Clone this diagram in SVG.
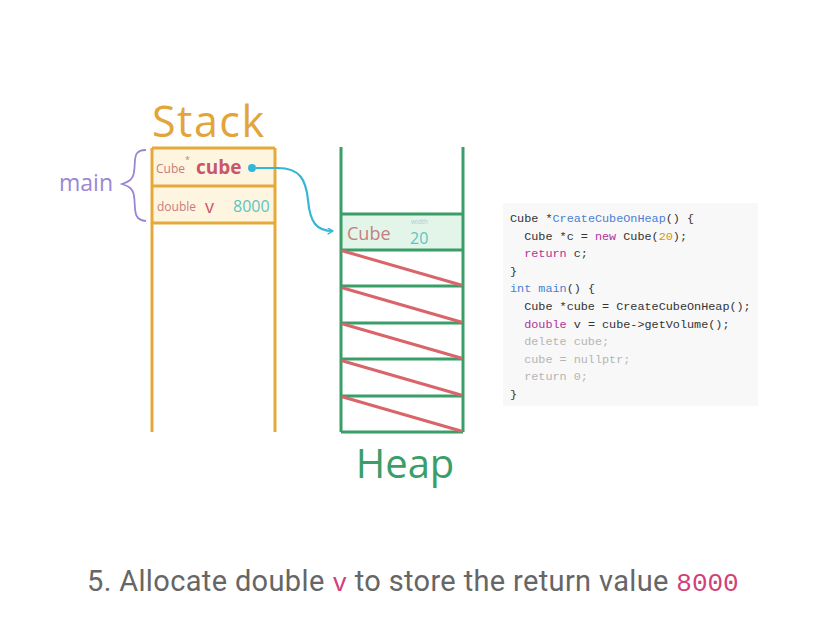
<svg xmlns="http://www.w3.org/2000/svg" width="820" height="628" viewBox="0 0 820 628">
<defs>
<style>
.hand{font-family:"Open Sans","DejaVu Sans",sans-serif}
.code{font-family:"Liberation Mono","DejaVu Sans Mono",monospace;font-size:11.8px;fill:#333;white-space:pre}
.kw{fill:#4a7fd4}.pk{fill:#b0339b}.num{fill:#c9961a}.dim{fill:#b5b5b5}
.st{stroke:#e5a93a;stroke-width:3;fill:none}
.hp{stroke:#3a9e68;stroke-width:3;fill:none}
.diag{stroke:#d9646a;stroke-width:3;fill:none;stroke-linecap:round}
</style>
<marker id="arr" viewBox="0 0 10 10" refX="8" refY="5" markerWidth="7" markerHeight="7" orient="auto" markerUnits="userSpaceOnUse">
<path d="M1,1 L8,5 L1,9" fill="none" stroke="#35b6d6" stroke-width="2" stroke-linecap="round" stroke-linejoin="round"/>
</marker>
</defs>
<rect width="820" height="628" fill="#ffffff"/>

<g id="stack">
<text x="152" y="137" class="hand" font-size="43" letter-spacing="1.5" fill="#e2a53a">Stack</text>
<rect x="152" y="148" width="123" height="75" fill="#fdf5e0"/>
<path class="st" d="M152,148 V432 M275,148 V432 M152,148 H275 M152,186 H275 M152,223 H275"/>
</g>

<g id="frame-main">
<path d="M146,150 C132,150 136,160 134,172 C133,180 128,182 122,184 C128,186 133,188 134,196 C136,208 132,220 146,221" fill="none" stroke="#9b86d6" stroke-width="1.8"/>
<text x="59" y="191" class="hand" font-size="23" fill="#9b86d6">main</text>
</g>

<g id="var-cube">
<text x="156" y="173" class="hand" font-size="12" fill="#c97b7b">Cube</text>
<text x="185" y="163" class="hand" font-size="9" fill="#c97b7b">*</text>
<text x="196" y="174" class="hand" font-size="19" font-weight="bold" fill="#c9566a">cube</text>
<circle cx="252" cy="168" r="4" fill="#35b6d6"/>
</g>

<g id="var-v">
<text x="157" y="211" class="hand" font-size="12" fill="#c97b7b">double</text>
<text x="205" y="213" class="hand" font-size="18" fill="#c9566a">v</text>
<text x="233" y="212" class="hand" font-size="16" fill="#5cc5c0">8000</text>
</g>

<g id="heap">
<rect x="341" y="214" width="122" height="36" fill="#e3f5e9"/>
<path class="hp" d="M341,147 V432 M463,147 V432 M341,214 H463 M341,250 H463 M341,286 H463 M341,323 H463 M341,359 H463 M341,396 H463 M341,432 H463"/>
<path class="diag" d="M343,251 L461,285 M343,288 L461,322 M343,324 L461,358 M343,361 L461,395 M343,397 L461,431"/>
<text x="405" y="478" class="hand" font-size="40" fill="#3a9e68" text-anchor="middle">Heap</text>
</g>

<g id="heap-cube">
<text x="347" y="240" class="hand" font-size="18" fill="#c48080">Cube</text>
<text x="411" y="224" class="hand" font-size="6.5" fill="#a8cfd6">width</text>
<text x="410" y="244" class="hand" font-size="16" fill="#5cc5c0">20</text>
</g>

<g id="connectors">
<path d="M256,168 H278 C300,168 306,180 308,200 C310,222 316,231 333,231" fill="none" stroke="#35b6d6" stroke-width="2.2" marker-end="url(#arr)"/>
</g>

<g id="code" xml:space="preserve">
<rect x="503" y="203" width="255" height="203" fill="#f8f8f8"/>
<text class="code" x="510" y="222">Cube *<tspan class="kw">CreateCubeOnHeap</tspan>() {</text>
<text class="code" x="510" y="240">  Cube *c = <tspan class="pk">new</tspan> Cube(<tspan class="num">20</tspan>);</text>
<text class="code" x="510" y="257"><tspan class="pk">  return</tspan> c;</text>
<text class="code" x="510" y="275">}</text>
<text class="code" x="510" y="292"><tspan class="kw">int</tspan> <tspan class="kw">main</tspan>() {</text>
<text class="code" x="510" y="310">  Cube *cube = CreateCubeOnHeap();</text>
<text class="code" x="510" y="328"><tspan class="pk">  double</tspan> v = cube-&gt;getVolume();</text>
<text class="code dim" x="510" y="345">  delete cube;</text>
<text class="code dim" x="510" y="363">  cube = nullptr;</text>
<text class="code dim" x="510" y="380">  return 0;</text>
<text class="code" x="510" y="398">}</text>
</g>

<g id="caption">
<text x="87" y="591" font-family="Roboto,'Noto Sans',sans-serif" font-size="29" letter-spacing="0.35" fill="#666666">5. Allocate double <tspan font-family="'Liberation Mono',monospace" fill="#d0407a" font-size="25" letter-spacing="0">v</tspan> to store the return value <tspan font-family="'Liberation Mono',monospace" fill="#d0407a" font-size="26" letter-spacing="0">8000</tspan></text>
</g>
</svg>
